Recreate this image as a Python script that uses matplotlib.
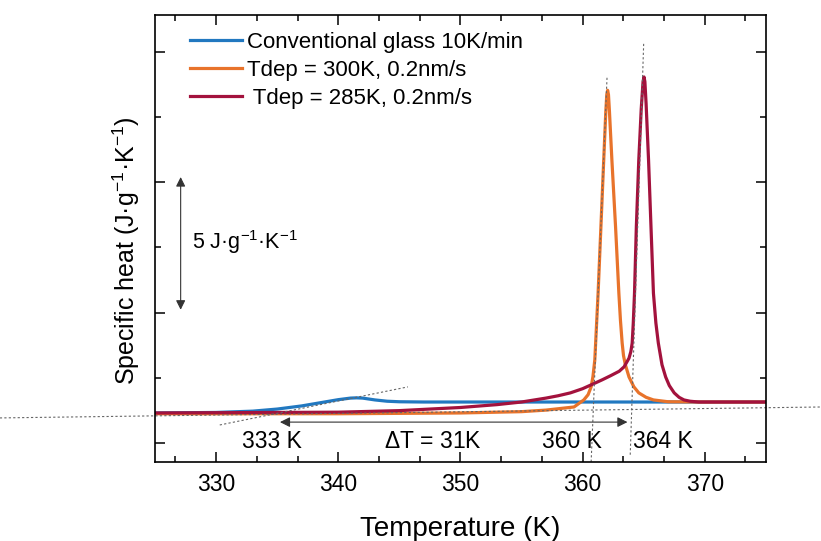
import numpy as np
import matplotlib
matplotlib.use("Agg")
import matplotlib.pyplot as plt
from matplotlib.ticker import MultipleLocator, NullFormatter

plt.rcParams['font.family'] = ['Liberation Sans', 'DejaVu Sans']
plt.rcParams['mathtext.default'] = 'regular'

# Conventional glass 10K/min
T_conv = [325, 330, 333, 335, 337, 339, 340, 341, 341.5, 342, 343, 344, 345, 347, 350, 355, 360, 365, 370, 375]
cp_conv = [1.15, 1.17, 1.22, 1.30, 1.42, 1.58, 1.66, 1.72, 1.73, 1.72, 1.65, 1.60, 1.58, 1.57, 1.57, 1.57, 1.57, 1.57, 1.57, 1.57]

# Tdep = 300K, 0.2nm/s
T_300 = [325, 340, 350, 355, 357, 359.3, 360.1, 360.45, 360.7, 360.85, 361.0, 361.27, 361.5, 361.73, 361.9,
         361.98, 362.05, 362.12, 362.2, 362.4, 362.7, 362.97, 363.1, 363.24, 363.35, 363.5, 363.8, 364.2,
         364.6, 365.2, 365.8, 367.0, 370, 375]
cp_300 = [1.12, 1.12, 1.15, 1.20, 1.26, 1.38, 1.65, 1.85, 2.15, 2.55, 3.18, 5.74, 8.28, 10.84, 12.7,
          13.35, 13.52, 13.35, 12.7, 10.84, 8.28, 5.74, 4.7, 3.83, 3.35, 3.0, 2.53, 2.15,
          1.92, 1.75, 1.65, 1.58, 1.57, 1.57]

# Tdep = 285K, 0.2nm/s
T_285 = [325, 340, 345, 350, 353, 355, 357, 358, 359.0, 360.0, 360.9, 361.6, 362.3, 363.0, 363.4, 363.8, 363.95,
         364.06, 364.15, 364.25, 364.4, 364.6, 364.8, 364.95, 365.03, 365.1, 365.2, 365.4, 365.6, 365.8, 366.0,
         366.2, 366.5, 366.8, 367.1, 367.5, 367.9, 368.3, 368.8, 369.5, 375]
cp_285 = [1.15, 1.18, 1.24, 1.36, 1.47, 1.57, 1.72, 1.81, 1.92, 2.08, 2.27, 2.42, 2.58, 2.75, 2.92, 3.25, 3.5,
          3.83, 4.6, 5.74, 8.28, 10.84, 12.8, 13.85, 14.03, 13.85, 13.0, 10.84, 8.28, 5.74, 4.6,
          3.83, 3.0, 2.53, 2.2, 1.92, 1.75, 1.65, 1.6, 1.57, 1.57]

fig = plt.figure(figsize=(8.21, 5.41), dpi=100)
ax = fig.add_axes([0.1888, 0.146, 0.744, 0.826])

c_conv, c_300, c_285 = '#2178c0', '#e8732b', '#a3123d'
ax.plot(T_conv, cp_conv, color=c_conv, lw=2.3, label='Conventional glass 10K/min')
ax.plot(T_300, cp_300, color=c_300, lw=2.3, label='Tdep = 300K, 0.2nm/s')
ax.plot(T_285, cp_285, color=c_285, lw=2.3, label=' Tdep = 285K, 0.2nm/s')

# construction lines
dot = dict(color='#666666', lw=0.8, ls=(0, (2, 2)), clip_on=False)
ax.plot([312.3, 379.6], [0.96, 1.38], **dot)
ax.plot([330.3, 345.7], [0.69, 2.15], **dot)
ax.plot([362.0, 360.7], [14.0, -0.73], **dot)
ax.plot([365.0, 363.9], [15.3, -0.46], **dot)

ax.annotate('', xy=(335.0, 0.80), xytext=(363.9, 0.80),
            arrowprops=dict(arrowstyle='<|-|>', color='#333333', lw=0.8, mutation_scale=15))
ax.annotate('', xy=(327.1, 10.3), xytext=(327.1, 5.0),
            arrowprops=dict(arrowstyle='<|-|>', color='#333333', lw=0.8, mutation_scale=14))
ax.text(328.0, 7.7, '5 J·g$^{-1}$·K$^{-1}$', fontsize=15.5, va='center', ha='left')

fs = 16.5
ax.text(334.6, 0.05, '333 K', fontsize=fs, ha='center', va='center')
ax.text(347.75, 0.05, r'$\Delta$T = 31K', fontsize=fs, ha='center', va='center')
ax.text(359.15, 0.05, '360 K', fontsize=fs, ha='center', va='center')
ax.text(366.6, 0.05, '364 K', fontsize=fs, ha='center', va='center')

ax.set_xlim(325, 375)
ax.set_ylim(-0.73, 16.4)
ax.xaxis.set_major_locator(MultipleLocator(10))
ax.xaxis.set_minor_locator(MultipleLocator(10 / 3))
ax.yaxis.set_major_locator(MultipleLocator(5))
ax.yaxis.set_minor_locator(MultipleLocator(2.5))
ax.yaxis.set_major_formatter(NullFormatter())
ax.tick_params(which='both', direction='in', top=True, right=True, width=1.1)
ax.tick_params(which='major', length=7, labelsize=16.5, pad=8)
ax.tick_params(which='minor', length=4)
for s in ax.spines.values():
    s.set_linewidth(1.2)

ax.set_xlabel('Temperature (K)', fontsize=20, labelpad=14)
ax.set_ylabel('Specific heat (J·g$^{-1}$·K$^{-1}$)', fontsize=18)
ax.yaxis.set_label_coords(-0.022, 0.474)

ax.legend(loc='upper left', bbox_to_anchor=(0.043, 0.983), frameon=False, fontsize=16,
          handlelength=2.35, handletextpad=0.22, labelspacing=0.32, borderaxespad=0)

fig.savefig('out.png', dpi=100)
